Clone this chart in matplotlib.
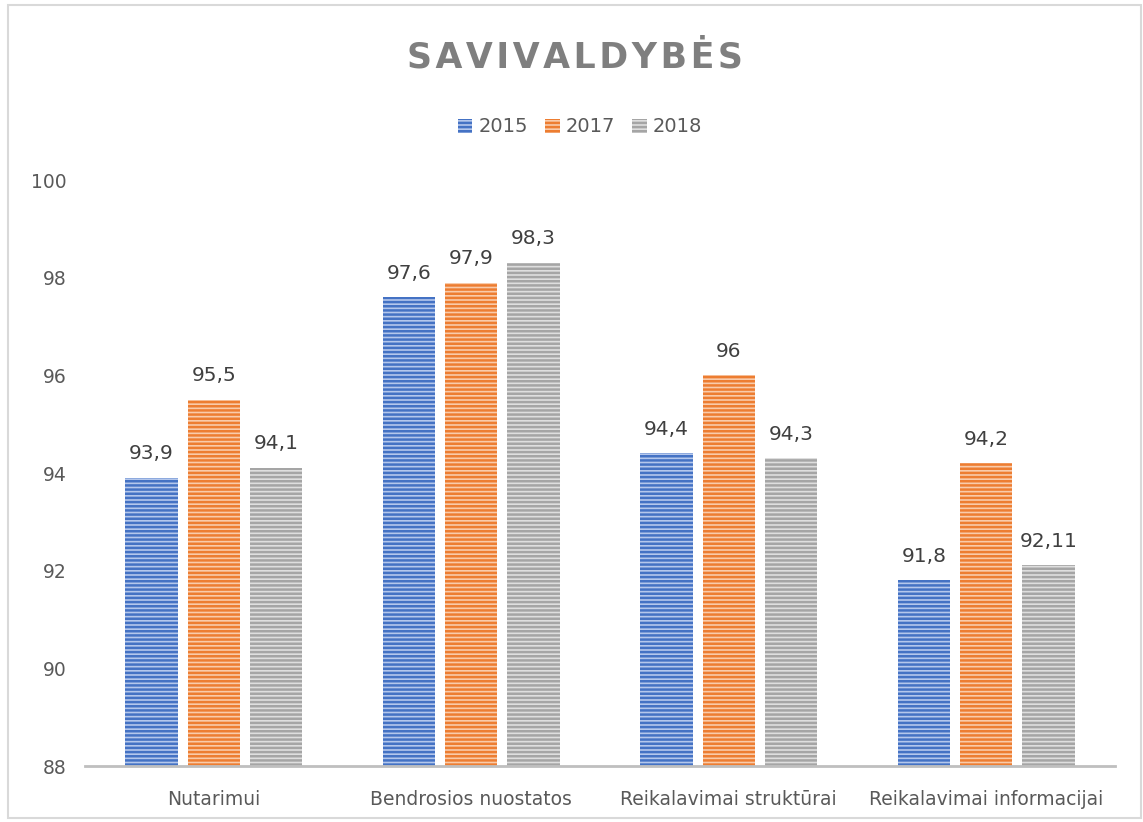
import matplotlib
matplotlib.use("Agg")
import matplotlib.pyplot as plt
import numpy as np
from matplotlib.patches import Rectangle

categories = ["Nutarimui", "Bendrosios nuostatos", "Reikalavimai struktūrai", "Reikalavimai informacijai"]
years = ["2015", "2017", "2018"]
v2015 = [93.9, 97.6, 94.4, 91.8]
v2017 = [95.5, 97.9, 96.0, 94.2]
v2018 = [94.1, 98.3, 94.3, 92.11]
labels2015 = ["93,9", "97,6", "94,4", "91,8"]
labels2017 = ["95,5", "97,9", "96", "94,2"]
labels2018 = ["94,1", "98,3", "94,3", "92,11"]
yticks = [88, 90, 92, 94, 96, 98, 100]

plt.rcParams['hatch.linewidth'] = 1.8
fig = plt.figure(figsize=(11.43, 8.22), dpi=100)
ax = fig.add_axes([85/1143, 1-766/822, 1030/1143, (766-180)/822])

dark = ["#4472C4", "#ED7D31", "#A5A5A5"]
light = ["#B4C7EC", "#F9CBAA", "#DEDEDE"]
series = [v2015, v2017, v2018]
lbls = [labels2015, labels2017, labels2018]
x = np.arange(len(categories))
w = 0.203
offs = [-0.242, 0, 0.242]
handles = []
for i in range(3):
    b = ax.bar(x + offs[i], np.array(series[i]) - 88, w, bottom=88, color=light[i],
               edgecolor=dark[i], hatch="----", linewidth=0, label=years[i])
    handles.append(b)
    for xi, v, t in zip(x + offs[i], series[i], lbls[i]):
        ax.text(xi, v + 0.3, t, ha="center", va="bottom", fontsize=14.5, color="#404040")

ax.set_xlim(-0.5, 3.5)
ax.set_ylim(88, 100)
ax.set_yticks(yticks)
ax.set_yticklabels([str(t) for t in yticks])
ax.set_xticks(x)
ax.set_xticklabels(categories)
ax.tick_params(axis="both", length=0, labelsize=13.5, labelcolor="#595959")
ax.tick_params(axis="y", pad=13)
ax.tick_params(axis="x", pad=17)
for s in ["top", "right", "left"]:
    ax.spines[s].set_visible(False)
ax.spines["bottom"].set_color("#BFBFBF")
ax.spines["bottom"].set_linewidth(2)

title = "\u200a".join("SAVIVALDYBĖS")
fig.text(575/1143, 1-57/822, title, ha="center", va="center", fontsize=25,
         fontweight="bold", color="#7F7F7F")

leg = fig.legend(handles=handles, loc="center", bbox_to_anchor=(580/1143, 1-127/822),
                 ncol=3, frameon=False, fontsize=14, handlelength=0.75, handleheight=0.75,
                 handletextpad=0.3, columnspacing=0.9)
for t in leg.get_texts():
    t.set_color("#595959")

fig.patches.append(Rectangle((8/1143, 1-818/822), 1133/1143, 813/822, transform=fig.transFigure,
                             fill=False, edgecolor="#D9D9D9", linewidth=1.5))

fig.savefig("out.png", dpi=100)
